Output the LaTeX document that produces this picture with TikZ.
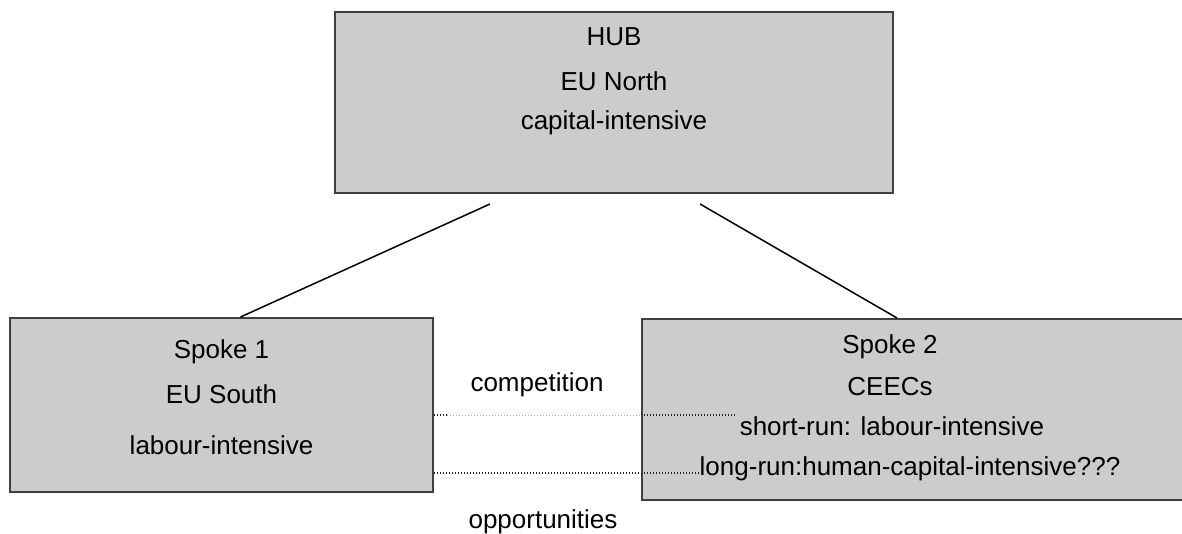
\documentclass[tikz,border=0pt]{standalone}
\usepackage{fontspec}
\setmainfont{Liberation Sans}
\begin{document}
\begin{tikzpicture}[x=1pt,y=-1pt,
  box/.style={draw=black!75, line width=2pt, fill=black!20, inner sep=0pt},
  lbl/.style={font=\fontsize{26}{30}\selectfont, inner sep=0pt, anchor=base},
  link/.style={line width=1.5pt, black},
  dotdark/.style={line width=1.3pt, black!85, dash pattern=on 1.3pt off 1.7pt},
  dotlight/.style={line width=1pt, black!35, dash pattern=on 1pt off 2pt}]
\useasboundingbox (0,0) rectangle (1182,534);
% boxes
\node[box, minimum width=558pt, minimum height=181pt] (hub) at (614,102.5) {};
\node[box, minimum width=423pt, minimum height=174pt] (s1) at (221.5,405) {};
\node[box, minimum width=560pt, minimum height=181pt] (s2) at (922,409.5) {};
% hub text
\node[lbl] (h1) at (614,46) {HUB};
\node[lbl] (h2) at (614,91) {EU North};
\node[lbl] (h3) at (614,130) {capital-intensive};
% spoke 1 text
\node[lbl] (a1) at (221.5,358) {Spoke 1};
\node[lbl] (a2) at (221.5,403) {EU South};
\node[lbl] (a3) at (221.5,454) {labour-intensive};
% spoke 2 text
\node[lbl] (b1) at (890,353) {Spoke 2};
\node[lbl] (b2) at (890,395) {CEECs};
\node[lbl] (b3) at (892,435) {short-run: labour-intensive};
\node[lbl] (b4) at (910,475) {long-run:human-capital-intensive???};
% between labels
\node[lbl] (comp) at (537,391) {competition};
\node[lbl] (opp) at (543,528) {opportunities};
% connectors hub -> spokes
\coordinate (hl) at (490,204);
\coordinate (hr) at (700,204);
\draw[link] (hl) -- ([xshift=19pt]s1.north);
\draw[link] (hr) -- ([xshift=-25pt]s2.north);
% competition dotted line
\coordinate (cA) at (s1.east |- 0,415);
\coordinate (cB) at (447,415);
\coordinate (cC) at (s2.west |- 0,415);
\coordinate (cD) at (735,415);
\draw[dotdark] (cA) -- (cB);
\draw[dotlight] (cB) -- (cC);
\draw[dotdark] (cC) -- (cD);
% opportunities dotted line
\coordinate (oA) at (s1.east |- 0,473);
\coordinate (oB) at (700,473);
\draw[dotdark] (oA) -- (oB);
\end{tikzpicture}
\end{document}
